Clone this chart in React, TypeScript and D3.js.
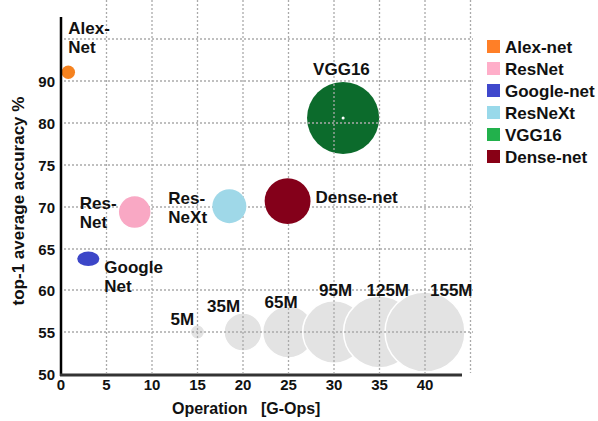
import React from "react";
import * as d3 from "d3";

// ---- data ----
const models = ["Alex-net", "ResNet", "Google-net", "ResNeXt", "VGG16", "Dense-net"];
const operations = [0.8, 8.1, 3.0, 18.5, 31.0, 24.9];
const accuracy = [92.1, 69.4, 63.8, 70.1, 81.2, 70.7];
const paramsM = [4.4, 24, 9, 28, 126, 51];
const pointLabels = [["Alex-", "Net"], ["Res-", "Net"], ["Google", "Net"], ["Res-", "NeXt"], ["VGG16"], ["Dense-net"]];

const refSizes = [5, 35, 65, 95, 125, 155];
const refOps = [15, 20, 25, 30, 35, 40];
const refAccuracy = 55;
const refLabels = ["5M", "35M", "65M", "95M", "125M", "155M"];

const xTicks = [0, 5, 10, 15, 20, 25, 30, 35, 40];
const xGridValues = [5, 10, 15, 20, 25, 30, 35, 40, 45];
const yTicks = [50, 55, 60, 65, 70, 75, 80, 90];
const yGridValues = [55, 60, 65, 70, 75, 80, 90, 100];

// ---- style / layout ----
const bubbleColors = ["#f5821f", "#f9a8c4", "#3c46c8", "#9fd8e8", "#0c6b2c", "#84001a"];
const legendColors = ["#ff7f27", "#ffaec9", "#3f48cc", "#99d9ea", "#22b14c", "#880015"];
const bubbleAspect = [[1, 1], [1, 1], [1.15, 0.75], [1, 1], [1, 1], [1, 1]];
const underGrid = [false, false, false, false, true, false];
const labelOffsets = [[0, -38], [-55, -3], [16, 14], [-61, -2], [-30, -43], [28, 2]];
const refLabelOffsets = [[-27, -7], [-36, -20], [-24, -24], [-15, -36], [-13, -36], [5, -36]];

const W = 598, H = 421;
const FONT = "'Liberation Sans', Arial, sans-serif";
const TXT = "#111";

const x = d3.scaleLinear().domain([0, 45]).range([61, 470.5]);
const y = d3.scaleLinear()
  .domain([50, 55, 60, 65, 70, 75, 80, 90, 100])
  .range([374, 332, 290, 249, 207, 165, 123, 81, 39]);
const r = d3.scaleSqrt().domain([0, 155]).range([0, 40]);

function Bubble({ i }: { i: number }) {
  const cx = x(operations[i]);
  const cy = y(accuracy[i]);
  const rr = r(paramsM[i]);
  return (
    <g>
      <ellipse cx={cx} cy={cy} rx={rr * bubbleAspect[i][0]} ry={rr * bubbleAspect[i][1]} fill={bubbleColors[i]} />
      {models[i] === "VGG16" && <circle cx={cx} cy={cy} r={1.5} fill="#fff" />}
    </g>
  );
}

export default function App() {
  const idx = models.map((_, i) => i);
  return (
    <div style={{ position: "absolute", left: 0, top: 0 }}>
      <svg width={W} height={H} style={{ display: "block", background: "#fff" }} fontFamily={FONT}>
        {/* reference bubbles */}
        {refSizes.map((s, i) => (
          <circle key={"ref" + i} cx={x(refOps[i])} cy={y(refAccuracy)} r={r(s)} fill="#e3e3e3" stroke="#fff" strokeWidth={1.5} />
        ))}
        {idx.filter((i) => underGrid[i]).map((i) => <Bubble key={"b" + i} i={i} />)}

        {/* grid */}
        {xGridValues.map((v) => (
          <line key={"gx" + v} x1={x(v)} x2={x(v)} y1={0} y2={373} stroke="#aaa" strokeWidth={1.3} strokeDasharray="2,2" />
        ))}
        {yGridValues.map((v) => (
          <line key={"gy" + v} x1={64} x2={473} y1={y(v)} y2={y(v)} stroke="#aaa" strokeWidth={1.3} strokeDasharray="2,2" />
        ))}

        {/* model bubbles */}
        {idx.filter((i) => !underGrid[i]).map((i) => <Bubble key={"b" + i} i={i} />)}

        {/* axes */}
        <line x1={61} x2={61} y1={17} y2={376} stroke="#000" strokeWidth={2.5} />
        <line x1={60} x2={462} y1={375} y2={375} stroke="#333" strokeWidth={3} />

        {/* tick labels */}
        {yTicks.map((v) => (
          <text key={"yt" + v} x={55} y={y(v) + 6} textAnchor="end" fontSize={15} fontWeight="bold" fill={TXT}>{v}</text>
        ))}
        {xTicks.map((v) => (
          <text key={"xt" + v} x={x(v)} y={390} textAnchor="middle" fontSize={15} fontWeight="bold" fill={TXT}>{v}</text>
        ))}

        {/* axis titles */}
        <text x={172} y={414} fontSize={16} fontWeight="bold" fill={TXT} style={{ whiteSpace: "pre" }}>{"Operation   [G-Ops]"}</text>
        <text transform="translate(24,201) rotate(-90)" textAnchor="middle" fontSize={17} fontWeight="bold" fill={TXT}>top-1 average accuracy %</text>

        {/* reference labels */}
        {refLabels.map((t, i) => (
          <text key={"rl" + i} x={x(refOps[i]) + refLabelOffsets[i][0]} y={y(refAccuracy) + refLabelOffsets[i][1]} fontSize={17} fontWeight="bold" fill={TXT}>{t}</text>
        ))}

        {/* point labels */}
        {idx.map((i) => (
          <text key={"pl" + i} x={x(operations[i]) + labelOffsets[i][0]} y={y(accuracy[i]) + labelOffsets[i][1]} fontSize={17} fontWeight="bold" fill={TXT}>
            {pointLabels[i].map((line, k) => (
              <tspan key={k} x={x(operations[i]) + labelOffsets[i][0]} dy={k === 0 ? 0 : 19}>{line}</tspan>
            ))}
          </text>
        ))}

        {/* legend */}
        {models.map((m, i) => (
          <g key={"lg" + i} transform={`translate(487,${47 + i * 22})`}>
            <rect x={0} y={-7} width={13} height={13} fill={legendColors[i]} />
            <text x={18} y={6} fontSize={17} fontWeight="bold" fill={TXT}>{m}</text>
          </g>
        ))}
      </svg>
    </div>
  );
}
